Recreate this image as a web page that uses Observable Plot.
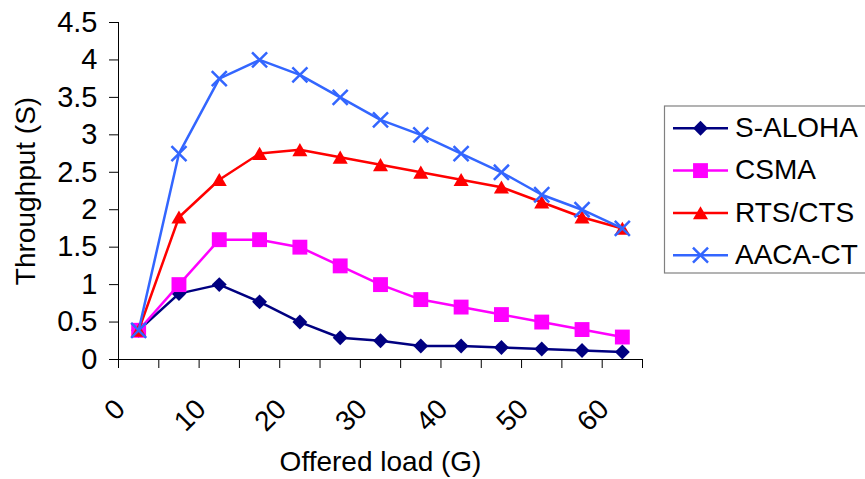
<!DOCTYPE html>
<html>
<head>
<meta charset="utf-8">
<script src="https://cdn.jsdelivr.net/npm/d3@7"></script>
<script src="https://cdn.jsdelivr.net/npm/@observablehq/plot@0.6"></script>
<style>
  html, body { margin: 0; padding: 0; background: #fff; overflow: hidden; }
  #chart { position: relative; width: 865px; height: 479px; }
</style>
</head>
<body>
<div id="chart"></div>
<script>
// ---- data ----
const offeredLoad = [2.5, 7.5, 12.5, 17.5, 22.5, 27.5, 32.5, 37.5, 42.5, 47.5, 52.5, 57.5, 62.5];
const sAloha = [0.39, 0.88, 1.0, 0.77, 0.5, 0.29, 0.25, 0.18, 0.18, 0.16, 0.14, 0.12, 0.1];
const csma   = [0.39, 1.0, 1.6, 1.6, 1.5, 1.25, 1.0, 0.8, 0.7, 0.6, 0.5, 0.4, 0.3];
const rtsCts = [0.39, 1.9, 2.4, 2.75, 2.8, 2.7, 2.6, 2.5, 2.4, 2.3, 2.1, 1.9, 1.75];
const aacaCt = [0.39, 2.75, 3.75, 4.0, 3.8, 3.5, 3.2, 3.0, 2.75, 2.5, 2.2, 2.0, 1.75];
const seriesNames = ["S-ALOHA", "CSMA", "RTS/CTS", "AACA-CT"];
const xTicks = [0, 5, 10, 15, 20, 25, 30, 35, 40, 45, 50, 55, 60, 65];
const xTickLabels = [0, 10, 20, 30, 40, 50, 60];
const yTicks = [0, 0.5, 1, 1.5, 2, 2.5, 3, 3.5, 4, 4.5];
const xTitle = "Offered load (G)";
const yTitle = "Throughput (S)";

const FONT = "Liberation Sans, Arial, Helvetica, sans-serif";
const FS = 28;

const styles = [
  {values: sAloha, color: "#000080", symbol: "diamond2", r: 6.7, filled: true, dy: 0},
  {values: csma,   color: "#FF00FF", symbol: "square",   r: 8.4, filled: true, dy: 0},
  {values: rtsCts, color: "#FF0000", symbol: "triangle", r: 5.6, filled: true, dy: 2},
  {values: aacaCt, color: "#3366FF", symbol: "times",    r: 6.9, filled: false, dy: 0}
];

const seriesMarks = [];
styles.forEach((s, k) => {
  const rows = offeredLoad.map((g, i) => ({g, v: s.values[i], name: seriesNames[k]}));
  seriesMarks.push(Plot.line(rows, {x: "g", y: "v", stroke: s.color, strokeWidth: 2.5}));
  seriesMarks.push(Plot.dot(rows, s.filled
    ? {x: "g", y: "v", symbol: s.symbol, r: s.r, fill: s.color, stroke: "none", dy: s.dy}
    : {x: "g", y: "v", symbol: s.symbol, r: s.r, stroke: s.color, strokeWidth: 2.5, fill: "none"}));
});

const plot = Plot.plot({
  width: 865,
  height: 479,
  marginLeft: 118,
  marginRight: 223,
  marginTop: 22,
  marginBottom: 120,
  style: {fontFamily: FONT, fontSize: FS + "px", color: "#000", background: "#fff", overflow: "visible"},
  x: {domain: [0, 65]},
  y: {domain: [0, 4.5]},
  marks: [
    Plot.axisY({ticks: yTicks, tickSize: 9, tickPadding: 12, label: null, fontSize: 29, stroke: "#000",
      tickFormat: d => String(d)}),
    Plot.axisX({ticks: xTicks, tickSize: 9, tickFormat: () => "", label: null, stroke: "#000"}),
    Plot.text(xTickLabels, {x: d => d, frameAnchor: "bottom", text: d => String(d), rotate: -45,
      textAnchor: "end", lineAnchor: "middle", dx: 2, dy: 45, fontSize: FS, fill: "#000"}),
    Plot.text([xTitle], {frameAnchor: "bottom", text: d => d, textAnchor: "middle", lineAnchor: "middle",
      dy: 103, fontSize: FS, fill: "#000"}),
    Plot.text([yTitle], {frameAnchor: "left", text: d => d, rotate: -90, textAnchor: "middle",
      lineAnchor: "middle", dx: -92, fontSize: FS, fill: "#000"}),
    Plot.ruleX([0], {stroke: "#000", strokeWidth: 1}),
    Plot.ruleY([0], {stroke: "#000", strokeWidth: 1}),
    ...seriesMarks
  ]
});

document.getElementById("chart").appendChild(plot);

// ---- legend (right side, partly clipped like the reference) ----
const svg = d3.select(plot);
const lg = svg.append("g").attr("font-family", FONT).attr("font-size", FS).attr("text-anchor", "start");
lg.append("rect").attr("x", 664.5).attr("y", 106).attr("width", 260).attr("height", 167)
  .attr("fill", "#fff").attr("stroke", "#808080").attr("stroke-width", 1.2);
const rowY = [128.3, 170.6, 212.9, 255.2];
const symMap = {diamond2: d3.symbolDiamond2, square: d3.symbolSquare, triangle: d3.symbolTriangle, times: d3.symbolTimes};
styles.forEach((s, k) => {
  const y = rowY[k];
  lg.append("line").attr("x1", 673).attr("x2", 728).attr("y1", y).attr("y2", y)
    .attr("stroke", s.color).attr("stroke-width", 2.5);
  const path = d3.symbol(symMap[s.symbol], Math.PI * s.r * s.r)();
  const p = lg.append("path").attr("d", path).attr("transform", `translate(700.5,${y + s.dy})`);
  if (s.filled) p.attr("fill", s.color);
  else p.attr("fill", "none").attr("stroke", s.color).attr("stroke-width", 2.5);
  lg.append("text").attr("x", 735).attr("y", y + 8.8).attr("fill", "#000")
    .attr("text-anchor", "start").text(seriesNames[k]);
});
</script>
</body>
</html>
